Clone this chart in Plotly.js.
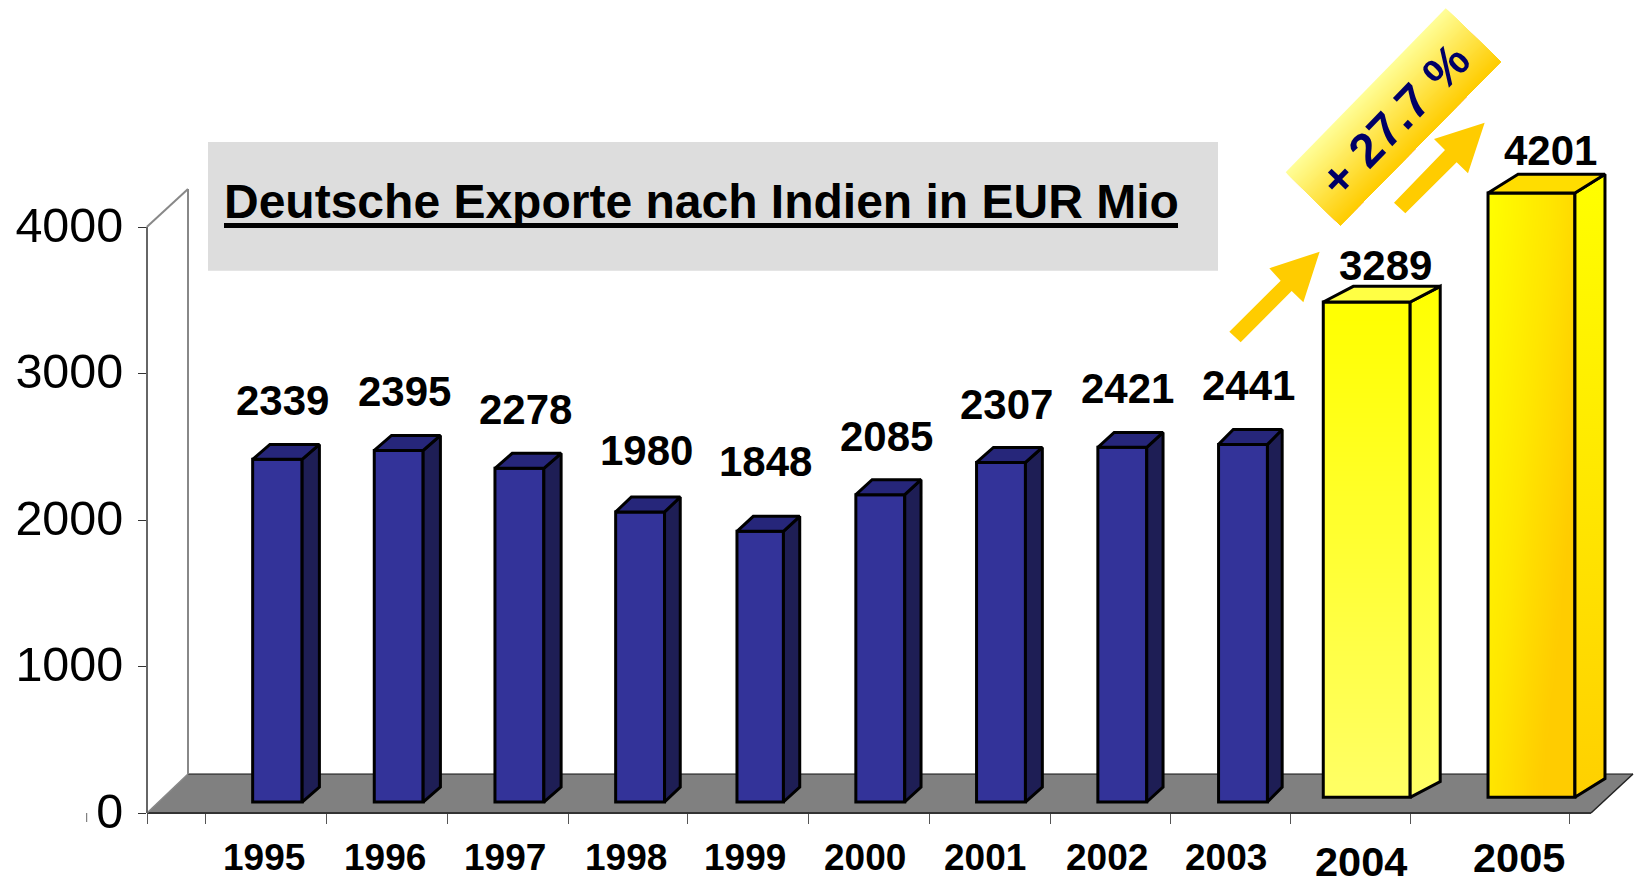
<!DOCTYPE html>
<html>
<head>
<meta charset="utf-8">
<script src="https://cdn.plot.ly/plotly-3.0.1.min.js"></script>
<style>html,body{margin:0;padding:0;background:#fff}#c{width:1635px;height:880px}</style>
</head>
<body>
<div id="c"></div>
<script>
// ---- data ----
const years = ['1995','1996','1997','1998','1999','2000','2001','2002','2003','2004','2005'];
const values = [2339,2395,2278,1980,1848,2085,2307,2421,2441,3289,4201];
// height of the drawn front faces as measured against the axis (the last two differ from their printed labels)
const drawnHeights = [2339,2400,2278,1980,1848,2098,2318,2421,2441,3381,4125];
const yTicks = [0,1000,2000,3000,4000];
const titleText = 'Deutsche Exporte nach Indien in EUR Mio';
const badgeText = '+ 27.7 %';

// ---- layout constants (screen px of the reference) ----
const W = 1635, H = 880, L = 147, B = 67, Y0 = 813, PXU = 0.1465, X0 = 277.4, STEP = 120.7;
const X = p => (p - X0) / STEP;
const Y = p => (Y0 - p) / PXU;
const PX = p => (p - L) / (W - L);
const PY = p => (Y0 - p) / Y0;
const barPos   = [0,1.005,2.005,3.005,4.0,4.995,5.995,7,8,9.025,10.39];
const barWidth = [.41,.405,.405,.405,.385,.405,.405,.405,.405,.72,.72];
const barBase  = [75,75,75,75,75,75,75,75,75,107,107];
const depthX   = [.143,.143,.143,.13,.135,.135,.14,.135,.122,.249,.249];
const depthY   = [102,102,102,102,102,102,102,102,102,107,128];
const valueLabelPx = [[282.6,400],[404.6,391.5],[525.5,409],[646.5,450],[765.3,461.5],[886.3,436.5],[1006,404],[1127,388],[1248,385.5],[1385.7,265],[1550.5,150]];
const yearLabelPx  = [[263.8,858],[384.8,858],[504.7,858],[625.6,858],[744.5,858],[865.4,858],[985.3,858],[1107,858],[1226,858],[1360.7,861],[1519,858]];
const xTickPx = [147,205.4,326.4,447.3,568.3,687,808,929,1050,1170,1290,1410,1569];

// ---- helpers ----
const path = pts => 'M' + pts.map(p => X(p[0]).toFixed(4) + ',' + Y(p[1]).toFixed(2)).join(' L') + ' Z';
const pathP = pts => 'M' + pts.map(p => PX(p[0]).toFixed(5) + ',' + PY(p[1]).toFixed(5)).join(' L') + ' Z';
const lineShape = (x0,y0,x1,y1,color,width) => ({type:'line',layer:'below',xref:'paper',yref:'paper',x0:PX(x0),y0:PY(y0),x1:PX(x1),y1:PY(y1),line:{color,width}});
const lerp = (a,b,t) => a + (b - a) * t;

function sideFace(i){
  const r = barPos[i] + barWidth[i]/2, b = barBase[i], t = b + drawnHeights[i];
  return {x:[r, r+depthX[i], r+depthX[i], r, r], y:[b, b+depthY[i], t+depthY[i], t, b]};
}
function topFace(i){
  const l = barPos[i] - barWidth[i]/2, r = barPos[i] + barWidth[i]/2, t = barBase[i] + drawnHeights[i];
  return {x:[l, l+depthX[i], r+depthX[i], r, l], y:[t, t+depthY[i], t+depthY[i], t, t]};
}
function merged(fn, idx){
  const x = [], y = [];
  idx.forEach(i => { const f = fn(i); x.push(...f.x, null); y.push(...f.y, null); });
  return {x, y};
}
function gradientFront(i, colorscale, zf){
  const n = 16, x = [], y = [], z = [];
  const l = barPos[i] - barWidth[i]/2, b = barBase[i];
  for (let k = 0; k <= n; k++){ x.push(l + barWidth[i]*k/n); y.push(b + drawnHeights[i]*k/n); }
  for (let r = 0; r < n; r++){ const row = []; for (let c = 0; c < n; c++) row.push(zf((c+.5)/n, (r+.5)/n)); z.push(row); }
  return {type:'heatmap', x, y, z, zmin:0, zmax:1, zsmooth:'best', colorscale, showscale:false, hoverinfo:'skip'};
}
const LW = 3;
const face = (xy, fillcolor) => Object.assign({type:'scatter', mode:'lines', fill:'toself', fillcolor, line:{color:'#000',width:LW}, hoverinfo:'skip', showlegend:false}, xy);
const gradFace = (xy, c0, c1, type) => Object.assign({type:'scatter', mode:'lines', fill:'toself',
  fillgradient:{type:type||'vertical', colorscale:[[0,c0],[1,c1]]}, line:{color:'#000',width:LW}, hoverinfo:'skip', showlegend:false}, xy);

const blueIdx = [0,1,2,3,4,5,6,7,8];
const data = [
  gradientFront(9,  [[0,'#FFFF66'],[1,'#FFFF00']], (u,v) => v),
  gradientFront(10, [[0,'#FFFF00'],[.55,'#FFE600'],[1,'#FFCC00']], (u,v) => Math.min(1, Math.max(0, u*.75 + (1-v)*.55))),
  {type:'bar', x:barPos, y:drawnHeights, base:barBase, width:barWidth,
   marker:{color:years.map((y,i)=> i<9 ? '#333399' : 'rgba(0,0,0,0)'), line:{color:'#000',width:LW}},
   hoverinfo:'skip', showlegend:false},
  face(merged(sideFace, blueIdx), '#1E1E55'),
  face(merged(topFace, blueIdx), '#26267A'),
  gradFace(sideFace(9), '#FFFF66', '#FFFF00'),
  face(topFace(9), '#FFFF44'),
  gradFace(sideFace(10), '#FFD000', '#FFFF00'),
  face(topFace(10), '#FFDD00')
];

// ---- annotations ----
const annotations = [];
values.forEach((v,i) => annotations.push({xref:'x',yref:'y',x:X(valueLabelPx[i][0]),y:Y(valueLabelPx[i][1]),text:String(v),showarrow:false,
  xanchor:'center',yanchor:'middle',font:{family:'"Liberation Sans",Arial,sans-serif',size:42,color:'#000',weight:700}}));
years.forEach((t,i) => annotations.push({xref:'x',yref:'paper',x:X(yearLabelPx[i][0]),y:PY(yearLabelPx[i][1]),text:t,showarrow:false,
  xanchor:'center',yanchor:'middle',font:{family:'"Liberation Sans",Arial,sans-serif',size:i<9?37:41.5,color:'#000',weight:700}}));
annotations.push({xref:'x',yref:'y',x:X(1394),y:Y(120),text:badgeText,showarrow:false,textangle:-46,xanchor:'center',yanchor:'middle',
  font:{family:'"Liberation Sans",Arial,sans-serif',size:48,color:'#000066',weight:700}});

// ---- shapes ----
const shapes = [
  {type:'path',layer:'below',xref:'paper',yref:'paper',path:pathP([[147,813],[188,774],[1633,774],[1591,813]]),fillcolor:'#808080',line:{width:0}},
  {type:'rect',layer:'below',xref:'paper',yref:'paper',x0:PX(208),x1:PX(1218),y0:PY(142),y1:PY(270.7),fillcolor:'#DDDDDD',line:{width:0}},
  lineShape(224,225.5,1178,225.5,'#000',5),
  lineShape(188,774,1633,774,'#111',1.2),
  lineShape(1633,774,1591,813,'#222',1.5),
  lineShape(147,813,1591,813,'#333',2),
  lineShape(147,813,188,774,'#888',1.5),
  lineShape(147,226.7,147,813,'#666',2),
  lineShape(147,226.7,188,189,'#888',2),
  lineShape(188,189,188,774,'#888',2),
  lineShape(86.7,813,86.7,822,'#666',1)
];
// gradient badge painted as overlapping strips
const A=[1445.7,8.3], Bc=[1500.7,61.7], C=[1340.3,225.3], D=[1285.7,172.3], N=48;
const c0=[255,255,153], c1=[255,204,0];
for (let k=0;k<N;k++){
  const t=k/N, u=t, col='rgb('+c0.map((v,j)=>Math.round(lerp(v,c1[j],(k+.5)/N))).join(',')+')';
  const P=[lerp(A[0],Bc[0],u),lerp(A[1],Bc[1],u)], Q=[lerp(D[0],C[0],u),lerp(D[1],C[1],u)];
  shapes.push({type:'path',layer:'above',xref:'x',yref:'y',path:path([P,Bc,C,Q]),fillcolor:col,line:{width:0}});
}
// two arrows
const arrow1 = [[148,995],[302,842],[268,805],[419,755],[370,907],[335,873],[182,1027]];
const arrow2 = [[642,608],[795,450],[762,417],[914,368],[864,520],[830,487],[676,640]];
[arrow1,arrow2].forEach(a => shapes.push({type:'path',layer:'above',xref:'x',yref:'y',
  path:path(a.map(p=>[1180+p[0]/3,p[1]/3])),fillcolor:'#FFCC00',line:{width:0}}));

const layout = {
  width:W, height:H, showlegend:false, hovermode:false, paper_bgcolor:'#fff', plot_bgcolor:'rgba(0,0,0,0)',
  margin:{l:L,r:0,t:0,b:B,pad:0},
  title:{text:titleText, x:224/W, xanchor:'left', xref:'container', y:1-201/H, yanchor:'middle', yref:'container', pad:{l:0,r:0,t:0,b:0},
    font:{family:'"Liberation Sans",Arial,sans-serif',size:48,color:'#000',weight:700}},
  xaxis:{type:'linear',range:[X(L),X(W)],showgrid:false,zeroline:false,showline:false,tickmode:'array',tickvals:xTickPx.map(X),
    showticklabels:false,ticks:'outside',ticklen:10,tickwidth:1,tickcolor:'#555'},
  yaxis:{type:'linear',range:[0,Y(0)],showgrid:false,zeroline:false,showline:false,tickmode:'array',tickvals:yTicks,ticktext:yTicks.map(String),
    ticks:'outside',ticklen:8,tickwidth:1,tickcolor:'#333',ticklabelstandoff:5,ticklabelshift:-2,
    tickfont:{family:'"Liberation Sans",Arial,sans-serif',size:48.5,color:'#000'}},
  shapes, annotations, barmode:'overlay'
};
Plotly.newPlot('c', data, layout, {displayModeBar:false, staticPlot:true});
</script>
</body>
</html>
